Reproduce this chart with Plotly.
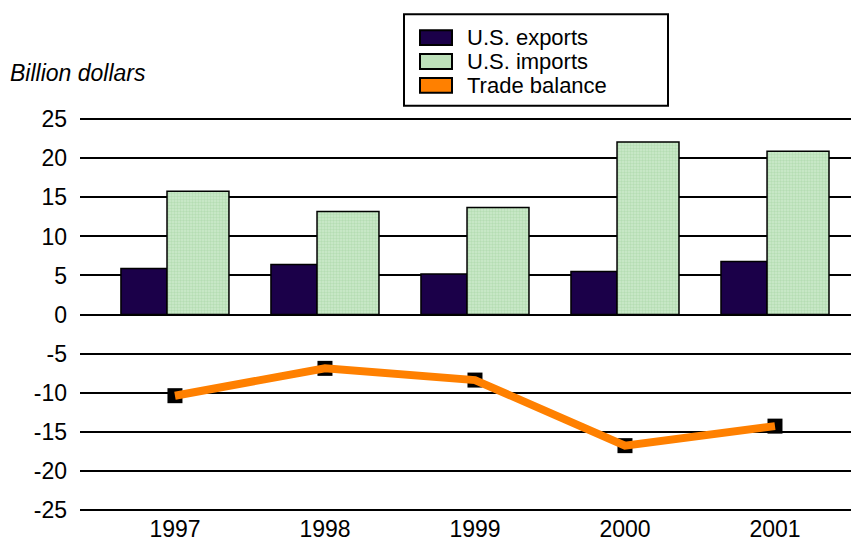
import plotly.graph_objects as go

years = ['1997', '1998', '1999', '2000', '2001']
us_exports = [5.9, 6.4, 5.2, 5.5, 6.8]
us_imports = [15.8, 13.2, 13.7, 22.1, 20.9]
trade_balance = [-10.4, -6.9, -8.4, -16.8, -14.3]

y_ticks = [25, 20, 15, 10, 5, 0, -5, -10, -15, -20, -25]
y_tick_labels = ['25', '20', '15', '10', '5', '0', '-5', '-10', '-15', '-20', '-25']

FONT = 'Liberation Sans, Arial, sans-serif'
EXPORT_COLOR = '#1b0049'
IMPORT_COLOR = '#bde0ba'
BALANCE_COLOR = '#ff8000'

# page body has an 8px margin, so the figure is drawn 8px in from the window edge
W, H = 851, 534
OFF = 8

fig = go.Figure()

# exports bar is narrower than imports bar, so draw them overlaid with own offsets
fig.add_trace(go.Bar(
    x=years, y=us_exports, name='U.S. exports',
    width=0.307, offset=-0.36,
    marker=dict(color=EXPORT_COLOR, line=dict(color='black', width=1.5)),
    showlegend=False,
))
fig.add_trace(go.Bar(
    x=years, y=us_imports, name='U.S. imports',
    width=0.413, offset=-0.053,
    marker=dict(
        color=IMPORT_COLOR,
        line=dict(color='black', width=1.5),
        pattern=dict(shape='.', fgcolor='#9dd09c', bgcolor='#cdeacb', size=3, solidity=0.5),
    ),
    showlegend=False,
))

# black markers drawn first so the orange line sits on top of them
fig.add_trace(go.Scatter(
    x=years, y=trade_balance, mode='markers',
    marker=dict(symbol='square', size=15, color='black'),
    showlegend=False, hoverinfo='skip',
))
fig.add_trace(go.Scatter(
    x=years, y=trade_balance, mode='lines', name='Trade balance',
    line=dict(color=BALANCE_COLOR, width=8),
    showlegend=False,
))

# hand-made legend box to mimic the original
legend_items = [
    ('U.S. exports', EXPORT_COLOR),
    ('U.S. imports', IMPORT_COLOR),
    ('Trade balance', BALANCE_COLOR),
]

plot_left, plot_right = 80 - OFF, 859 - OFF
plot_top, plot_bottom = 117.3 - OFF, 514.5 - OFF

def px_x(p):
    return (p - OFF - plot_left) / (plot_right - plot_left)

def px_y(p):
    return (plot_bottom - (p - OFF)) / (plot_bottom - plot_top)

shapes = [dict(
    type='rect', xref='paper', yref='paper',
    x0=px_x(404), x1=px_x(668), y0=px_y(106), y1=px_y(14),
    line=dict(color='black', width=2), fillcolor='white',
)]
annotations = []
row_tops = [30, 54, 78]
for (label, color), top in zip(legend_items, row_tops):
    shapes.append(dict(
        type='rect', xref='paper', yref='paper',
        x0=px_x(420), x1=px_x(452), y0=px_y(top + 15), y1=px_y(top),
        line=dict(color='black', width=2), fillcolor=color,
    ))
    annotations.append(dict(
        text=label, xref='paper', yref='paper',
        x=px_x(465), y=px_y(top + 7.5), xanchor='left', yanchor='middle',
        showarrow=False, font=dict(family=FONT, size=22, color='black'),
    ))

annotations.append(dict(
    text='<i>Billion dollars</i>', xref='paper', yref='paper',
    x=px_x(8), y=px_y(73), xanchor='left', yanchor='middle',
    showarrow=False, font=dict(family=FONT, size=23, color='black'),
))

fig.update_layout(
    width=W, height=H,
    barmode='overlay',
    plot_bgcolor='white', paper_bgcolor='white',
    margin=dict(l=plot_left, r=W - plot_right, t=plot_top, b=H - plot_bottom),
    font=dict(family=FONT, size=22, color='black'),
    shapes=shapes,
    annotations=annotations,
    xaxis=dict(
        type='category', range=[-0.633, 4.56],
        showgrid=False, showline=False, ticks='',
        tickfont=dict(size=23), ticklabelstandoff=1,
    ),
    yaxis=dict(
        range=[-25.3, 25.3], tickvals=y_ticks, ticktext=y_tick_labels,
        showgrid=True, gridcolor='black', gridwidth=1.5,
        zeroline=True, zerolinecolor='black', zerolinewidth=1.5,
        showline=False, ticks='',
        tickfont=dict(size=23), ticklabelstandoff=12,
    ),
)

fig.write_html('out.html')
